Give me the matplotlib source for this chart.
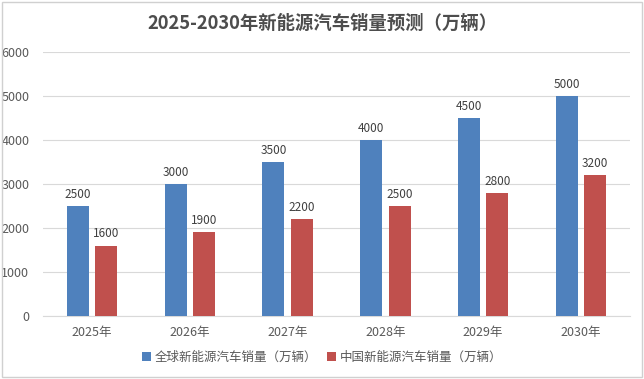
import matplotlib.pyplot as plt
import numpy as np
from matplotlib.patches import Rectangle

plt.rcParams['font.family'] = ['Noto Sans CJK SC', 'DejaVu Sans']

years = ["2025年", "2026年", "2027年", "2028年", "2029年", "2030年"]
global_sales = [2500, 3000, 3500, 4000, 4500, 5000]
china_sales = [1600, 1900, 2200, 2500, 2800, 3200]
series_names = ["全球新能源汽车销量（万辆）", "中国新能源汽车销量（万辆）"]

blue = "#4F81BD"
red = "#C0504D"

fig = plt.figure(figsize=(6.44, 3.79), dpi=100)
ax = fig.add_axes([0.067, 0.166, 0.911, 0.697])

x = np.arange(len(years))
w = 0.225
off = 0.145
b1 = ax.bar(x - off, global_sales, w, color=blue, label=series_names[0], zorder=3)
b2 = ax.bar(x + off, china_sales, w, color=red, label=series_names[1], zorder=3)

for bars in (b1, b2):
    for r in bars:
        ax.text(r.get_x() + r.get_width() / 2, r.get_height() + 120,
                f"{int(r.get_height())}", ha="center", va="bottom",
                fontsize=8.5, color="#404040")

ax.set_xlim(-0.5, len(years) - 0.5)
ax.set_ylim(0, 6000)
ax.set_yticks(range(0, 6001, 1000))
ax.set_xticks(x)
ax.set_xticklabels(years)
ax.tick_params(axis="both", length=0, labelsize=9, colors="#595959")
ax.tick_params(axis="y", pad=10)
ax.tick_params(axis="x", pad=7)
ax.grid(axis="y", color="#D9D9D9", linewidth=0.8, zorder=0)
for s in ("top", "right", "left"):
    ax.spines[s].set_visible(False)
ax.spines["bottom"].set_color("#D9D9D9")

fig.suptitle("2025-2030年新能源汽车销量预测（万辆）", y=0.963, fontsize=13.2,
             fontweight="bold", color="#4D4D4D")

fig.legend(loc="lower center", ncol=2, frameon=False, fontsize=9,
           bbox_to_anchor=(0.5, 0.01), handlelength=0.7, handleheight=0.7,
           columnspacing=0.8, handletextpad=0.3, labelcolor="#595959")

fig.patches.append(Rectangle((0.003, 0.004), 0.994, 0.992, transform=fig.transFigure,
                             fill=False, edgecolor="#D0D0D0", linewidth=1))

fig.savefig("out.png", dpi=100)
